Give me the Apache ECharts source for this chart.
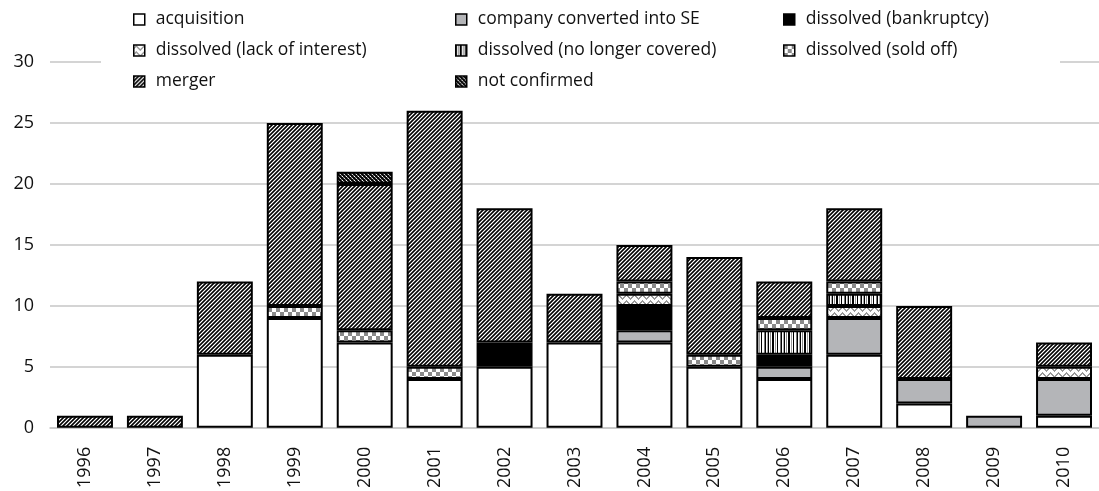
<!DOCTYPE html>
<html>
<head>
<meta charset="utf-8">
<script src="https://cdn.jsdelivr.net/npm/echarts@6/dist/echarts.min.js"></script>
<style>html,body{margin:0;padding:0;background:#fff;}#c{width:1099px;height:491px;}</style>
</head>
<body>
<div id="c"></div>
<script>
const years = ['1996','1997','1998','1999','2000','2001','2002','2003','2004','2005','2006','2007','2008','2009','2010'];
const seriesNames = ['acquisition','company converted into SE','dissolved (bankruptcy)','dissolved (lack of interest)','dissolved (no longer covered)','dissolved (sold off)','merger','not confirmed'];
const acquisition   = [0,0,6,9,7,4,5,7,7,5,4,6,2,0,1];
const convertedSE   = [0,0,0,0,0,0,0,0,1,0,1,3,2,1,3];
const bankruptcy    = [0,0,0,0,0,0,2,0,2,0,1,0,0,0,0];
const lackInterest  = [0,0,0,0,0,0,0,0,1,0,0,1,0,0,1];
const noLonger      = [0,0,0,0,0,0,0,0,0,0,2,1,0,0,0];
const soldOff       = [0,0,0,1,1,1,0,0,1,1,1,1,0,0,0];
const merger        = [1,1,6,15,12,21,11,4,3,8,3,6,6,0,2];
const notConfirmed  = [0,0,0,0,1,0,0,0,0,0,0,0,0,0,0];
const yTicks = [0,5,10,15,20,25,30];

function tile(w, h, fn) {
  const c = document.createElement('canvas');
  c.width = w; c.height = h;
  const ctx = c.getContext('2d');
  for (let y = 0; y < h; y++) for (let x = 0; x < w; x++) {
    ctx.fillStyle = fn(x, y);
    ctx.fillRect(x, y, 1, 1);
  }
  return { image: c, repeat: 'repeat' };
}
const mergerPat = tile(4, 4, (x, y) => ['#000', '#555', '#fff', '#555'][(x + y) % 4]);
const checkPat = tile(8, 8, (x, y) => ((Math.floor(x / 4) + Math.floor(y / 4)) % 2 ? '#fff' : '#8a8a8a'));
const vertCols = ['#000','#fff','#888','#fff','#000','#000','#fff','#999','#fff','#000','#fff','#fff','#777','#000','#fff','#aaa'];
const vertPat = tile(16, 4, (x, y) => vertCols[x]);
const wavePat = tile(8, 6, (x, y) => {
  const yy = [3, 2, 1, 2, 3, 4, 5, 4][x];
  return (y === yy || y === yy - 1) ? '#999' : '#fff';
});
const dotPat = tile(4, 4, (x, y) => {
  const m = ['#000','#333','#fff','#111','#222','#000','#111','#999','#ddd','#111','#000','#333','#111','#888','#222','#000'];
  return m[y * 4 + x];
});
const fills = ['#ffffff', '#b4b5b8', '#000000', wavePat, vertPat, checkPat, mergerPat, dotPat];
const dataArr = [acquisition, convertedSE, bankruptcy, lackInterest, noLonger, soldOff, merger, notConfirmed];

const font = "'Open Sans', 'Noto Sans', sans-serif";
const series = seriesNames.map((n, i) => ({
  name: n, type: 'bar', stack: 'all', barWidth: '80%',
  data: dataArr[i].map(v => v === 0 ? null : v),
  itemStyle: { color: fills[i], borderColor: '#000', borderWidth: 2 },
  emphasis: { disabled: true }
}));

function legendCol(left, names) {
  return {
    orient: 'vertical', left: left, top: 9.5, padding: 0,
    icon: 'rect',
    itemWidth: 11, itemHeight: 11, itemGap: 11,
    data: names,
    textStyle: { fontFamily: font, fontSize: 17.5, color: '#111', lineHeight: 20, padding: [0, 0, 0, 6] },
    itemStyle: { borderColor: '#000', borderWidth: 1.5 }
  };
}

const chart = echarts.init(document.getElementById('c'), null, { renderer: 'canvas' });
chart.setOption({
  animation: false,
  backgroundColor: '#fff',
  grid: { left: 50, right: 0, top: 62, bottom: 63 },
  legend: [
    legendCol(133, [seriesNames[0], seriesNames[3], seriesNames[6]]),
    legendCol(455, [seriesNames[1], seriesNames[4], seriesNames[7]]),
    legendCol(783, [seriesNames[2], seriesNames[5]])
  ],
  graphic: [{ type: 'rect', z: 1, shape: { x: 101, y: 50, width: 959, height: 25 }, style: { fill: '#fff' }, silent: true }],
  xAxis: {
    type: 'category', data: years,
    axisLine: { lineStyle: { color: '#c6c6c6', width: 1.5 } },
    axisTick: { show: false },
    axisLabel: { rotate: 90, fontFamily: font, fontSize: 18, color: '#111', margin: 19 }
  },
  yAxis: {
    type: 'value', min: yTicks[0], max: yTicks[yTicks.length - 1], interval: 5,
    axisLine: { show: false }, axisTick: { show: false },
    axisLabel: { fontFamily: font, fontSize: 18, color: '#111', margin: 16 },
    splitLine: { lineStyle: { color: '#c6c6c6', width: 1.5 } }
  },
  series: series
});
</script>
</body>
</html>
